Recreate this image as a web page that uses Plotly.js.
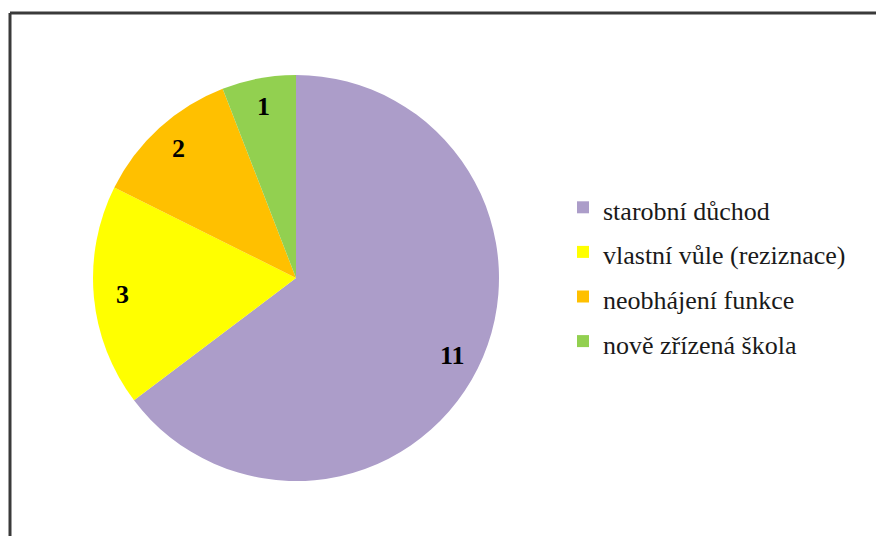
<!DOCTYPE html>
<html>
<head>
<meta charset="utf-8">
<script src="https://cdn.plot.ly/plotly-3.0.1.min.js"></script>
<style>html,body{margin:0;padding:0;background:#fff;}#chart{width:876px;height:536px;}</style>
</head>
<body>
<div id="chart"></div>
<script>
const categories = ["starobní důchod", "vlastní vůle (reziznace)", "neobhájení funkce", "nově zřízená škola"];
const values = [11, 3, 2, 1];
const colors = ["#AC9DC9", "#FFFF00", "#FFC000", "#92D050"];

const W = 876, H = 536;
const cx = 296, cy = 278, R = 203;
const labelRadius = 0.86;

const trace = {
  type: "pie",
  labels: categories.map(c => '<span style="font-size:26px">' + c + '</span>'),
  values: values,
  sort: false,
  direction: "clockwise",
  rotation: 0,
  marker: {colors: colors, line: {width: 0}},
  textinfo: "none",
  domain: {x: [(cx - R) / W, (cx + R) / W], y: [1 - (cy + R) / H, 1 - (cy - R) / H]},
  hoverinfo: "label+value"
};

// value labels placed at the middle angle of each slice (clockwise from 12 o'clock)
const total = values.reduce((a, b) => a + b, 0);
let cum = 0;
const annotations = values.map(v => {
  const mid = (cum + v / 2) / total * 2 * Math.PI;
  cum += v;
  const px = cx + labelRadius * R * Math.sin(mid);
  const py = cy - labelRadius * R * Math.cos(mid);
  return {
    xref: "paper", yref: "paper", x: px / W, y: 1 - py / H,
    xanchor: "center", yanchor: "middle", showarrow: false,
    text: String(v),
    font: {family: "Liberation Serif", size: 26, color: "#000", weight: "bold"}
  };
});

const layout = {
  width: W, height: H,
  margin: {l: 0, r: 0, t: 0, b: 0},
  paper_bgcolor: "#fff",
  showlegend: true,
  legend: {
    x: 563 / W, y: 1 - 180 / H, xanchor: "left", yanchor: "top",
    font: {family: "Liberation Serif", size: 32, color: "#1a1a1a"},
    itemwidth: 30, bgcolor: "rgba(0,0,0,0)"
  },
  annotations: annotations,
  shapes: [
    {type: "line", xref: "paper", yref: "paper", x0: 10 / W, x1: 1, y0: 1 - 13 / H, y1: 1 - 13 / H, line: {color: "#3a3a3a", width: 3}},
    {type: "line", xref: "paper", yref: "paper", x0: 10 / W, x1: 10 / W, y0: 1 - 13 / H, y1: 0, line: {color: "#3a3a3a", width: 3}}
  ]
};

Plotly.newPlot("chart", [trace], layout, {displayModeBar: false, staticPlot: true});
</script>
</body>
</html>
